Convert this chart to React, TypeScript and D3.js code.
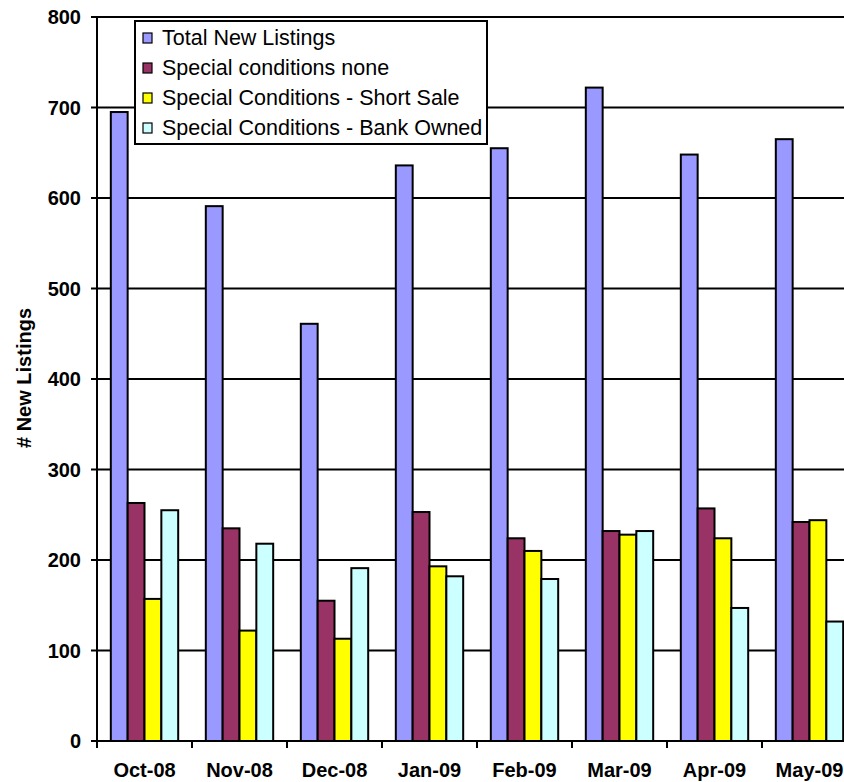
import React from "react";
import * as d3 from "d3";

const categories = ["Oct-08", "Nov-08", "Dec-08", "Jan-09", "Feb-09", "Mar-09", "Apr-09", "May-09"];
const seriesNames = [
  "Total New Listings",
  "Special conditions none",
  "Special Conditions - Short Sale",
  "Special Conditions - Bank Owned",
];
const totalNew = [695, 591, 461, 636, 655, 722, 648, 665];
const condNone = [263, 235, 155, 253, 224, 232, 257, 242];
const shortSale = [157, 122, 113, 193, 210, 228, 224, 244];
const bankOwned = [255, 218, 191, 182, 179, 232, 147, 132];
const yTicks = [0, 100, 200, 300, 400, 500, 600, 700, 800];
const colors = ["#9999FF", "#993366", "#FFFF00", "#CCFFFF"];

const W = 844;
const H = 782;
const left = 97;
const right = 857;
const top = 17;
const bottom = 741;

export default function App() {
  const series = [totalNew, condNone, shortSale, bankOwned];
  const x = d3.scaleBand<string>().domain(categories).range([left, right]).paddingInner(0).paddingOuter(0);
  const y = d3.scaleLinear().domain([0, 800]).range([bottom, top]);
  const cw = x.bandwidth();
  const inner = d3
    .scaleBand<number>()
    .domain([0, 1, 2, 3])
    .range([0, cw])
    .paddingInner(0)
    .paddingOuter(0.82);
  const bw = inner.bandwidth();
  const font = "'Liberation Sans', Arial, sans-serif";

  return (
    <svg
      width={W}
      height={H}
      style={{ position: "absolute", left: 0, top: 0, background: "#fff" }}
      fontFamily={font}
    >
      <rect x={0} y={0} width={W} height={H} fill="#fff" />
      {/* gridlines */}
      {yTicks.filter((t) => t > 0).map((t) => (
        <line key={t} x1={left} x2={right} y1={y(t)} y2={y(t)} stroke="#000" strokeWidth={2} />
      ))}
      {/* bars */}
      {categories.map((c, i) => (
        <g key={c}>
          {series.map((s, k) => (
            <rect
              key={k}
              x={(x(c) as number) + (inner(k) as number)}
              y={y(s[i])}
              width={bw}
              height={y(0) - y(s[i])}
              fill={colors[k]}
              stroke="#000"
              strokeWidth={2}
            />
          ))}
        </g>
      ))}
      {/* axes */}
      <line x1={left} x2={left} y1={top} y2={bottom} stroke="#000" strokeWidth={2} />
      <line x1={left} x2={right} y1={bottom} y2={bottom} stroke="#000" strokeWidth={2} />
      {yTicks.map((t) => (
        <g key={t}>
          <line x1={left - 6} x2={left} y1={y(t)} y2={y(t)} stroke="#000" strokeWidth={2} />
          <text
            x={81}
            y={y(t)}
            textAnchor="end"
            dominantBaseline="central"
            fontSize={20}
            fontWeight="bold"
            fill="#000"
          >
            {t}
          </text>
        </g>
      ))}
      {categories.map((c) => (
        <line
          key={"t" + c}
          x1={x(c) as number}
          x2={x(c) as number}
          y1={bottom}
          y2={bottom + 7}
          stroke="#000"
          strokeWidth={2}
        />
      ))}
      {categories.map((c) => (
        <text
          key={"l" + c}
          x={(x(c) as number) + cw / 2}
          y={777}
          textAnchor="middle"
          fontSize={20}
          fontWeight="bold"
          fill="#000"
        >
          {c}
        </text>
      ))}
      <text
        transform={`translate(31, ${378}) rotate(-90)`}
        textAnchor="middle"
        fontSize={20}
        fontWeight="bold"
        fill="#000"
      >
        # New Listings
      </text>
      {/* legend */}
      <g>
        <rect x={135} y={21} width={352} height={123} fill="#fff" stroke="#000" strokeWidth={2} />
        {seriesNames.map((n, k) => (
          <g key={n}>
            <rect x={143} y={33 + k * 30} width={9} height={10} fill={colors[k]} stroke="#000" strokeWidth={1.2} />
            <text x={162} y={38 + k * 30} dominantBaseline="central" fontSize={21.5} fill="#000">
              {n}
            </text>
          </g>
        ))}
      </g>
    </svg>
  );
}
